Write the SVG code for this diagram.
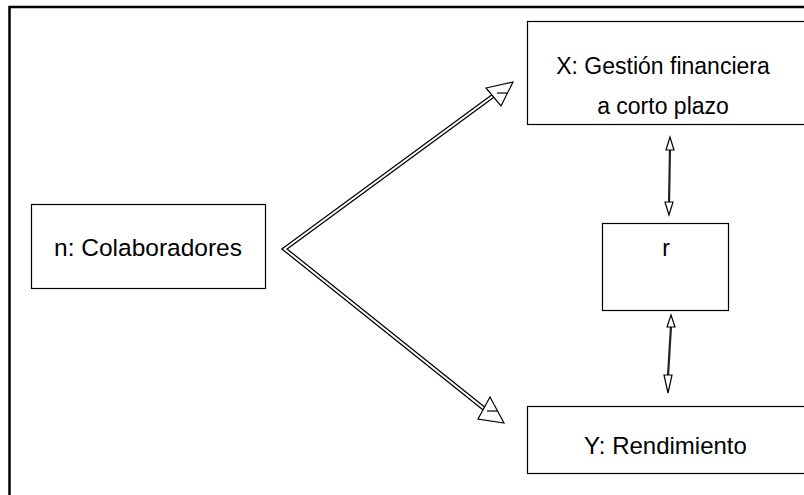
<svg xmlns="http://www.w3.org/2000/svg" width="804" height="495" viewBox="0 0 804 495">
<style>
.box{fill:#fff;stroke:#000;stroke-width:1.2}
.t{font-family:"Liberation Sans",Arial,sans-serif;font-size:23px;fill:#000;text-anchor:middle}
.dbl-o{fill:none;stroke:#000;stroke-width:4.5;stroke-linejoin:miter}
.dbl-i{fill:none;stroke:#fff;stroke-width:2}
.head{fill:#fff;stroke:#000;stroke-width:1.2;stroke-linejoin:miter}
.v{stroke:#222;stroke-width:2.2}
</style>
<rect x="0" y="0" width="804" height="495" fill="#fff"/>
<rect x="9.5" y="7" width="900" height="600" fill="none" stroke="#000" stroke-width="2.5"/>
<g id="node-n"><rect class="box" x="31.5" y="204.5" width="234" height="84"/><text class="t" x="148" y="256" style="font-size:24.5px">n: Colaboradores</text></g>
<g id="node-x"><rect class="box" x="527.5" y="21.5" width="300" height="103"/><text class="t" x="663" y="74">X: Gestión financiera</text><text class="t" x="663" y="114">a corto plazo</text></g>
<g id="node-r"><rect class="box" x="602.5" y="223.5" width="126" height="87"/><text class="t" x="666" y="256">r</text></g>
<g id="node-y"><rect class="box" x="527.5" y="406.5" width="300" height="67"/><text class="t" x="665.5" y="454" style="font-size:24px">Y: Rendimiento</text></g>
<g id="connectors">
<polyline class="dbl-o" points="497,93 284.5,249 487,411"/>
<polyline class="dbl-i" points="497,93 284.5,249 487,411"/>
<polygon class="head" points="513,82 486,88 501,106"/>
<line x1="497" y1="93" x2="507" y2="93" stroke="#000" stroke-width="1.2"/>
<polygon class="head" points="504,423 490,397 478,419"/>
<line x1="487" y1="411" x2="497" y2="411" stroke="#000" stroke-width="1.2"/>
<line class="v" x1="670" y1="148" x2="669" y2="204"/>
<polygon class="head" points="670,137 666,150 674,150"/>
<polygon class="head" points="669,215 665,202 673,202"/>
<line class="v" x1="671" y1="326" x2="668" y2="376"/>
<polygon class="head" points="671,315 667,327 675,327"/>
<polygon class="head" points="668,393 664,375 672,375"/>
</g>
</svg>
